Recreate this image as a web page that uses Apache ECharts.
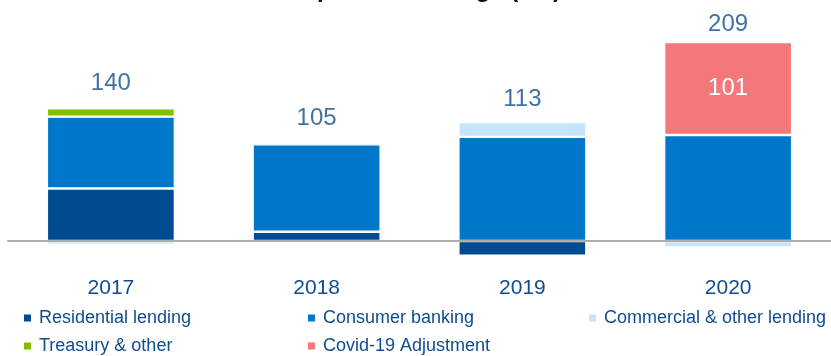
<!DOCTYPE html>
<html>
<head>
<meta charset="utf-8">
<script src="https://cdn.jsdelivr.net/npm/echarts@6/dist/echarts.min.js"></script>
<style>
  html, body { margin: 0; padding: 0; background: #ffffff; }
  #chart { width: 831px; height: 356px; }
</style>
</head>
<body>
<div id="chart"></div>
<script>
// Impairment charge by year, split by business line (£m)
const years = ['2017', '2018', '2019', '2020'];
const residentialLending = [57, 10, -16, 0];
const consumerBanking = [78, 95, 113, 115];
const commercialOtherLending = [-4, 0, 16, -7];
const treasuryOther = [9, 0, 0, 0];
const covidAdjustment = [0, 0, 0, 101];
const totals = [140, 105, 113, 209];

const FONT = '"Liberation Sans", Arial, sans-serif';
const NAVY = '#0f4c90';

const segments = [
  { name: 'Residential lending', values: residentialLending, color: '#004a8f' },
  { name: 'Consumer banking', values: consumerBanking, color: '#0077c8' },
  { name: 'Commercial & other lending', values: commercialOtherLending, color: '#c4e5fb' },
  { name: 'Treasury & other', values: treasuryOther, color: '#84bd00' },
  { name: 'Covid-19 Adjustment', values: covidAdjustment, color: '#f4777b' }
];

// Top of the positive stack for each year, used to anchor the total labels
const positiveTops = years.map((_, i) =>
  segments.reduce((s, seg) => s + Math.max(0, seg.values[i]), 0));
// Gap (px) between each bar top and its total label
const totalLabelGap = [13, 14, 11, 6];

const barSeries = segments.map(seg => ({
  name: seg.name,
  type: 'bar',
  stack: 'impairment',
  barWidth: 128,
  data: seg.values.map(v => (v === 0 ? null : v)),
  itemStyle: { color: seg.color, borderColor: '#ffffff', borderWidth: 1.2 },
  label: seg.name === 'Covid-19 Adjustment' ? {
    show: true,
    position: 'inside',
    color: '#ffffff',
    fontFamily: FONT,
    fontSize: 24,
    formatter: p => (p.value ? String(p.value) : '')
  } : { show: false },
  emphasis: { disabled: true }
}));

const totalSeries = {
  name: 'Total',
  type: 'scatter',
  symbolSize: 0,
  data: positiveTops.map((v, i) => ({
    value: v,
    label: { distance: totalLabelGap[i] }
  })),
  label: {
    show: true,
    position: 'top',
    color: NAVY,
    fontFamily: FONT,
    fontSize: 24,
    formatter: p => String(totals[p.dataIndex])
  },
  z: 10
};

// One legend block per entry so the entries sit in fixed columns and rows
const legendSlots = [
  { name: 'Residential lending', left: 17, top: 304 },
  { name: 'Consumer banking', left: 301, top: 304 },
  { name: 'Commercial & other lending', left: 582, top: 304 },
  { name: 'Treasury & other', left: 17, top: 332 },
  { name: 'Covid-19 Adjustment', left: 301, top: 332 }
];
const legends = legendSlots.map(s => ({
  left: s.left,
  top: s.top,
  data: [s.name],
  itemWidth: 9,
  itemHeight: 9,
  icon: 'rect',
  selectedMode: false,
  textStyle: { color: NAVY, fontFamily: FONT, fontSize: 18, lineHeight: 18, padding: [0, 0, 0, 2] }
}));

const chart = echarts.init(document.getElementById('chart'), null, { renderer: 'canvas' });
chart.setOption({
  animation: false,
  backgroundColor: '#ffffff',
  graphic: [{
    type: 'text',
    x: 425,
    y: -10,
    style: {
      text: 'Impairment charge (£m)',
      fill: '#111111',
      font: 'bold 24px ' + FONT,
      textAlign: 'center',
      textVerticalAlign: 'middle'
    }
  }],
  legend: legends,
  grid: { left: 8, right: -1, top: 10.7, height: 248.7, containLabel: false },
  xAxis: {
    type: 'category',
    data: years,
    z: 5,
    axisLine: { onZero: true, lineStyle: { color: '#adadad', width: 2 } },
    axisTick: { show: false },
    axisLabel: { margin: 18, color: NAVY, fontFamily: FONT, fontSize: 21 }
  },
  yAxis: {
    type: 'value',
    min: -20,
    max: 250,
    interval: 10,
    show: false,
    splitLine: { show: false }
  },
  series: barSeries.concat([totalSeries])
});
</script>
</body>
</html>
